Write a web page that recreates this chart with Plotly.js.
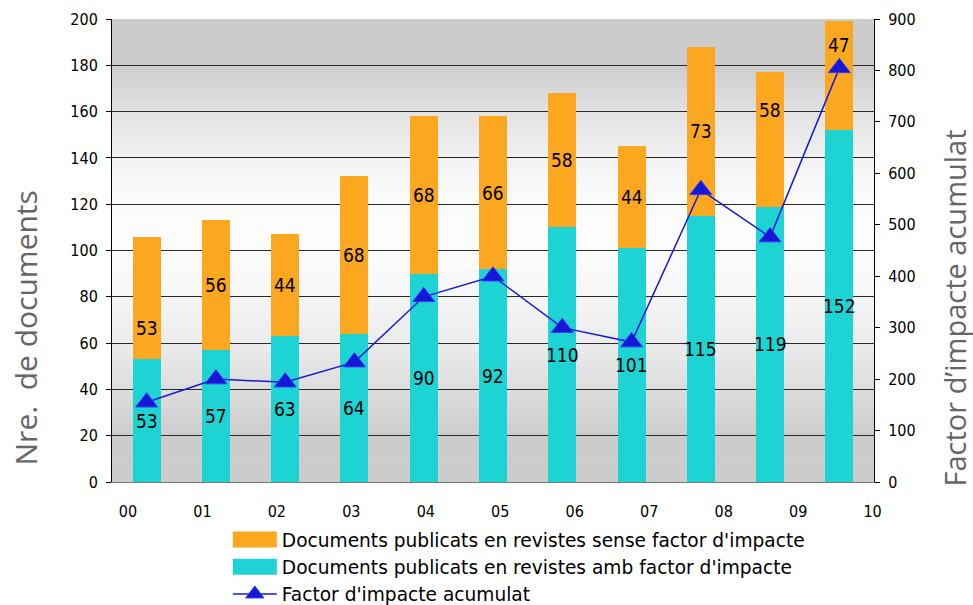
<!DOCTYPE html>
<html><head><meta charset="utf-8">
<script src="https://cdn.plot.ly/plotly-3.0.1.min.js"></script>
<style>html,body{margin:0;padding:0;background:#fff}#chart{width:973px;height:605px}</style>
</head><body><div id="chart"></div>
<script>
// ---- data ----
const years = ['00','01','02','03','04','05','06','07','08','09','10'];
const docsWithIF = [53,57,63,64,90,92,110,101,115,119,152];
const docsWithoutIF = [53,56,44,68,68,66,58,44,73,58,47];
const cumulativeIF = [155,200,194,233,360,400,300,272,568,476,805];
const nameWithout = "Documents publicats en revistes sense factor d'impacte";
const nameWith = "Documents publicats en revistes amb factor d'impacte";
const nameIF = "Factor d'impacte acumulat";
const leftTitle = "Nre.\u00a0 de documents";
const rightTitle = "Factor d\u2019impacte acumulat";

// ---- styling ----
const FONT = "DejaVu Sans Condensed, DejaVu Sans, sans-serif";
const LEGFONT = "DejaVu Sans, sans-serif";
const ORANGE = '#FCA720', TEAL = '#1DD3D3', BLUE = '#1717D8';
const xs = years.map((_, i) => i);

const traces = [
  {type:'bar', x:xs, y:docsWithIF, name:nameWith, marker:{color:TEAL}, legendrank:2, legendgroup:'b', hoverinfo:'y'},
  {type:'bar', x:xs, y:docsWithoutIF, name:nameWithout, marker:{color:ORANGE}, legendrank:1, legendgroup:'a', hoverinfo:'y'},
  {type:'scatter', mode:'lines+markers', x:xs, y:cumulativeIF, yaxis:'y2', name:nameIF,
   line:{color:BLUE, width:1.5}, marker:{symbol:'triangle-up', size:19, color:BLUE, line:{color:'#3a3af0', width:1}},
   legendrank:3, legendgroup:'c'}
];

// background gradient stripes
function grey(v){
  let g;
  if (v <= 20) g = 204;
  else if (v <= 110) g = 204 + 48*Math.sin(Math.PI/2*(v-20)/90);
  else if (v <= 180) g = 252 - 48*(1-Math.cos(Math.PI/2*(v-110)/70));
  else g = 204;
  g = Math.round(g);
  return 'rgb('+g+','+g+','+g+')';
}
const shapes = [];
const N = 100;
for (let k = 0; k < N; k++){
  const y0 = 200*k/N, y1 = 200*(k+1)/N + 0.3;
  shapes.push({type:'rect', xref:'x domain', yref:'y', x0:0, x1:1, y0:y0, y1:Math.min(y1,200),
    fillcolor:grey((y0+y1)/2), line:{width:0}, layer:'below'});
}

// data labels
const labelShift = {0:-30, 9:29, 10:31};
const annotations = [];
xs.forEach(i => {
  annotations.push({x:i, y:docsWithIF[i]/2, xref:'x', yref:'y', text:String(docsWithIF[i]),
    showarrow:false, font:{family:FONT, size:19, color:'#000'}});
  annotations.push({x:i, y:docsWithIF[i] + docsWithoutIF[i]/2, xref:'x', yref:'y', text:String(docsWithoutIF[i]),
    showarrow:false, yshift: labelShift[i] || 0, font:{family:FONT, size:19, color:'#000'}});
});
annotations.push({text:leftTitle, xref:'paper', yref:'paper', x:-0.1129, y:0.3337, xanchor:'center', yanchor:'middle',
  textangle:-90, showarrow:false, font:{family:'Open Sans', size:30, color:'#666'}});
annotations.push({text:rightTitle, xref:'paper', yref:'paper', x:1.1063, y:0.3747, xanchor:'center', yanchor:'middle',
  textangle:-90, showarrow:false, font:{family:'Open Sans', size:29, color:'#666'}});

const tickPos = years.map((_, i) => -0.27 + i*1.075);

const layout = {
  width:973, height:605,
  margin:{l:112, r:99, t:19, b:123, pad:0, autoexpand:false},
  paper_bgcolor:'#fff', plot_bgcolor:'#fff',
  barmode:'stack', bargap:0.596,
  showlegend:true,
  legend:{x:0.152, xanchor:'left', y:-0.0843, yanchor:'top', orientation:'v', traceorder:'normal',
    itemwidth:44, tracegroupgap:3, font:{family:LEGFONT, size:18.6, color:'#000'}, bgcolor:'rgba(0,0,0,0)'},
  font:{family:FONT, color:'#000'},
  xaxis:{range:[-0.5,10.5], tickmode:'array', tickvals:tickPos, ticktext:years,
    ticks:'outside', ticklen:15, tickcolor:'rgba(0,0,0,0)', showgrid:false, zeroline:false,
    showline:true, linecolor:'#777', linewidth:1, tickfont:{family:FONT, size:16, color:'#000'}, fixedrange:true},
  yaxis:{range:[0,200], dtick:20, ticks:'outside', ticklen:5, tickcolor:'#000', showline:true, linecolor:'#000', linewidth:1,
    showgrid:true, gridcolor:'#2a2a2a', gridwidth:1, zeroline:false, tickfont:{family:FONT, size:16, color:'#000'},
    ticklabelstandoff:5},
  yaxis2:{range:[0,900], dtick:100, overlaying:'y', side:'right', ticks:'outside', ticklen:5, tickcolor:'#000',
    showline:true, linecolor:'#000', linewidth:1, showgrid:false, zeroline:false,
    tickfont:{family:FONT, size:16, color:'#000'}, ticklabelstandoff:5},
  shapes:shapes,
  annotations:annotations
};

Plotly.newPlot('chart', traces, layout, {staticPlot:true, displayModeBar:false}).then(gd => {
  gd.querySelectorAll('.legend .legendpoints path').forEach(p => {
    if ((p.getAttribute('d')||'').replace(/\s/g,'') === 'M6,6H-6V-6H6Z') {
      p.setAttribute('d','M22,8H-22V-8H22Z');
    }
  });
});
</script></body></html>
